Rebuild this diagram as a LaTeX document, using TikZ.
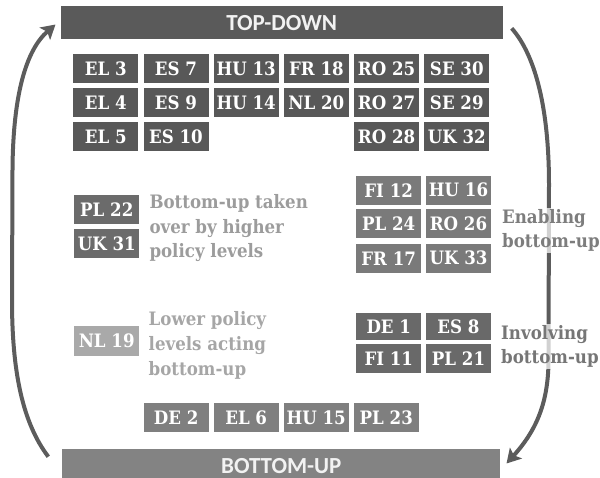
\documentclass[tikz,border=0pt]{standalone}
\usepackage{fontspec}
\setmainfont{DejaVu Serif Condensed}
\newfontfamily\barfont{Carlito}
\usetikzlibrary{arrows.meta}
\definecolor{cTop}{HTML}{585858}
\definecolor{cTopBar}{HTML}{5A5A5A}
\definecolor{cMidL}{HTML}{6B6B6B}
\definecolor{cMidR}{HTML}{7A7A7A}
\definecolor{cInv}{HTML}{696969}
\definecolor{cLow}{HTML}{A9A9A9}
\definecolor{cBot}{HTML}{7F7F7F}
\definecolor{cBotBar}{HTML}{838383}
\definecolor{cArrow}{HTML}{5C5C5C}
\definecolor{cTxtA}{HTML}{9C9C9C}
\definecolor{cTxtB}{HTML}{A6A6A6}
\definecolor{cTxtC}{HTML}{7D7D7D}
\definecolor{cTxtD}{HTML}{767676}
\definecolor{cBarTxt}{HTML}{F2F2F2}
\begin{document}
\begin{tikzpicture}[x=1pt,y=-1pt,
  box/.style={rectangle, inner sep=0pt, minimum width=65pt, minimum height=29pt,
    text=white, font=\fontsize{18.5}{22}\selectfont\bfseries},
  bar/.style={rectangle, inner sep=0pt, text=cBarTxt,
    font=\barfont\fontsize{23}{27}\selectfont\bfseries},
  lbl/.style={inner sep=0pt, align=left, anchor=base west,
    font=\fontsize{18.5}{24.8}\selectfont\bfseries},
  cyc/.style={draw=cArrow, line width=4pt,
    -{Stealth[length=14pt,width=16pt,inset=3pt]}}]
\useasboundingbox (0,0) rectangle (600,478);
\clip (0,0) rectangle (600,478);

% bars
\node[bar, fill=cTopBar, minimum width=442pt, minimum height=33.3pt] (topbar) at (281.7,22.7) {TOP-DOWN};
\node[bar, fill=cBotBar, minimum width=438pt, minimum height=34pt] (botbar) at (281.3,466) {BOTTOM-UP};

% cycle arrows
\coordinate (rs) at (511.7,28.3);
\coordinate (re) at (506.5,463.5);
\coordinate (ls) at (48.3,456.7);
\coordinate (le) at (55.5,24.5);
\draw[cyc] (rs) .. controls (536,56) and (549,110) .. (549,185)
  -- (548.5,362) .. controls (548,405) and (535,432) .. (re);
\draw[cyc] (ls) .. controls (22,422) and (12,370) .. (12,300)
  -- (12.5,170) .. controls (13,95) and (26,50) .. (le);

% top-down group
\foreach \t/\x/\y/\n in {EL 3/105.8/68.8/a1, ES 7/176/68.8/a2, HU 13/246.2/68.8/a3,
  FR 18/316.4/68.8/a4, RO 25/386.6/68.8/a5, SE 30/456.8/68.8/a6,
  EL 4/105.8/102.9/b1, ES 9/176/102.9/b2, HU 14/246.2/102.9/b3,
  NL 20/316.4/102.9/b4, RO 27/386.6/102.9/b5, SE 29/456.8/102.9/b6,
  EL 5/105.8/137/c1, ES 10/176/137/c2, RO 28/386.6/137/c5, UK 32/456.8/137/c6}
  \node[box, fill=cTop] (\n) at (\x,\y) {\t};

% bottom-up taken over
\node[box, fill=cMidL] (pl22) at (106.8,209.5) {PL 22};
\node[box, fill=cMidL] (uk31) at (106.8,243.5) {UK 31};
\node[lbl, text=cTxtA] (takenlbl) at (149.3,258) {Bottom-up taken\\over by higher\\policy levels};

% enabling
\node[box, fill=cMidR] (fi12) at (388.7,190.2) {FI 12};
\node[box, fill=cMidR] (hu16) at (458.5,190.2) {HU 16};
\node[box, fill=cMidR] (pl24) at (388.7,224) {PL 24};
\node[box, fill=cMidR] (ro26) at (458.5,224) {RO 26};
\node[box, fill=cMidR] (fr17) at (388.7,258.2) {FR 17};
\node[box, fill=cMidR] (uk33) at (458.5,258.2) {UK 33};
\node[lbl, text=cTxtC, fill=white, fill opacity=0.72, text opacity=1, inner ysep=1.5pt] (enlbl) at (502,248) {Enabling\\bottom-up};

% lower levels
\node[box, fill=cLow, minimum height=30pt] (nl19) at (106.7,341) {NL 19};
\node[lbl, text=cTxtB] (lowlbl) at (148.5,375.3) {Lower policy\\levels acting\\bottom-up};

% involving
\node[box, fill=cInv, minimum height=27pt] (de1) at (388.8,326.5) {DE 1};
\node[box, fill=cInv, minimum height=27pt] (es8) at (458.5,326.5) {ES 8};
\node[box, fill=cInv] (fi11) at (388.8,358.8) {FI 11};
\node[box, fill=cInv] (pl21) at (458.5,358.8) {PL 21};
\node[lbl, text=cTxtD, fill=white, fill opacity=0.72, text opacity=1, inner ysep=1.5pt] (invlbl) at (501,364) {Involving\\bottom-up};

% bottom row
\node[box, fill=cBot] (de2) at (176.2,417.5) {DE 2};
\node[box, fill=cBot] (el6) at (246.2,417.5) {EL 6};
\node[box, fill=cBot] (hu15) at (316.2,417.5) {HU 15};
\node[box, fill=cBot] (pl23) at (386.3,417.5) {PL 23};
\end{tikzpicture}
\end{document}
